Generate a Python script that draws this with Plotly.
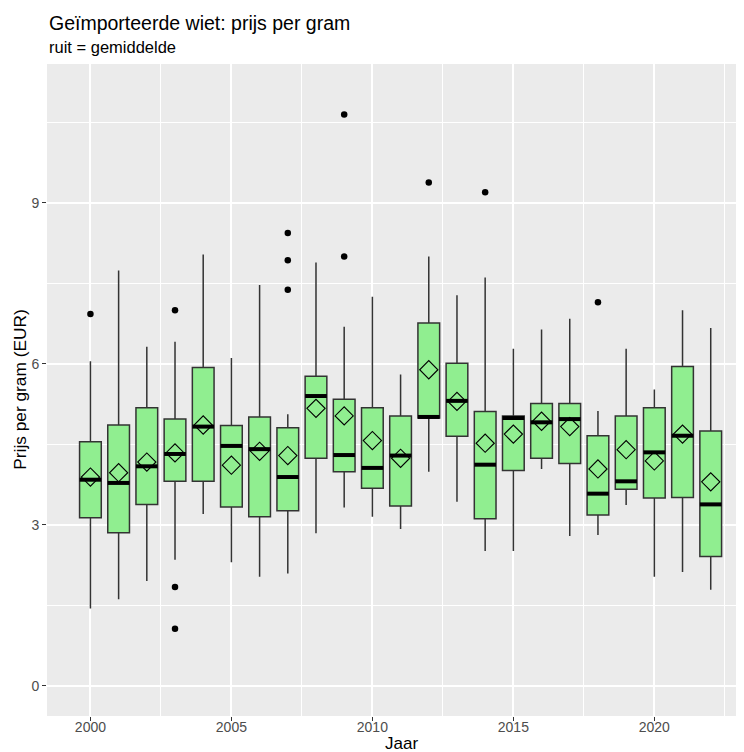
import plotly.graph_objects as go

# ---- data ----
years = list(range(2000, 2023))
q1 = [3.13, 2.85, 3.38, 3.81, 3.81, 3.33, 3.15, 3.26, 4.24, 3.99, 3.68, 3.35,
      4.99, 4.65, 3.11, 4.01, 4.24, 4.14, 3.18, 3.66, 3.50, 3.51, 2.41]
median = [3.84, 3.78, 4.09, 4.32, 4.83, 4.47, 4.41, 3.89, 5.40, 4.30, 4.06, 4.29,
          5.01, 5.31, 4.12, 4.99, 4.91, 4.97, 3.58, 3.81, 4.35, 4.66, 3.38]
q3 = [4.55, 4.86, 5.18, 4.97, 5.93, 4.85, 5.01, 4.81, 5.77, 5.34, 5.18, 5.03,
      6.76, 6.01, 5.11, 5.03, 5.26, 5.26, 4.66, 5.03, 5.18, 5.95, 4.75]
lower = [1.44, 1.61, 1.95, 2.35, 3.20, 2.30, 2.03, 2.09, 2.84, 3.32, 3.15, 2.92,
         3.99, 3.43, 2.51, 2.51, 4.04, 2.79, 2.81, 3.37, 2.03, 2.12, 1.79]
upper = [6.05, 7.74, 6.32, 6.41, 8.04, 6.11, 7.47, 5.06, 7.89, 6.69, 7.25, 5.80,
         8.00, 7.28, 7.61, 6.28, 6.64, 6.84, 5.12, 6.28, 5.52, 7.00, 6.67]
means = [3.89, 3.97, 4.17, 4.34, 4.86, 4.11, 4.37, 4.29, 5.17, 5.03, 4.57, 4.24,
         5.89, 5.30, 4.52, 4.69, 4.93, 4.83, 4.04, 4.40, 4.19, 4.69, 3.80]
out_years = [2000, 2003, 2003, 2003, 2007, 2007, 2007, 2009, 2009, 2012, 2014, 2018]
out_vals = [6.93, 7.00, 1.84, 1.06, 8.44, 7.93, 7.38, 10.65, 8.00, 9.38, 9.20, 7.15]

title_text = "Geïmporteerde wiet: prijs per gram"
subtitle_text = "ruit = gemiddelde"
x_title = "Jaar"
y_title = "Prijs per gram (EUR)"

FONT = "Liberation Sans, Arial, sans-serif"

fig = go.Figure()
fig.add_trace(go.Box(
    x=years, q1=q1, median=median, q3=q3, lowerfence=lower, upperfence=upper,
    width=0.77, fillcolor="#90EE90", line=dict(color="#333333", width=1.5),
    whiskerwidth=0, boxpoints=False, showlegend=False, hoverinfo="skip"))
fig.add_trace(go.Scatter(
    x=years, y=median, mode="markers", showlegend=False, hoverinfo="skip",
    marker=dict(symbol="line-ew", size=15.5, color="black",
                line=dict(color="black", width=4))))
fig.add_trace(go.Scatter(
    x=years, y=means, mode="markers", showlegend=False, hoverinfo="skip",
    marker=dict(symbol="diamond-open", size=14, color="black",
                line=dict(color="black", width=1.1))))
fig.add_trace(go.Scatter(
    x=out_years, y=out_vals, mode="markers", showlegend=False, hoverinfo="skip",
    marker=dict(symbol="circle", size=6.5, color="black")))

axis_common = dict(
    showgrid=True, gridcolor="white", gridwidth=2, zeroline=False,
    ticks="outside", ticklen=4, tickwidth=1, tickcolor="#333333",
    showline=False, tickfont=dict(family=FONT, size=14, color="#4D4D4D"),
)
fig.update_xaxes(range=[1998.46, 2023.18], tickmode="linear", tick0=2000, dtick=5,
                 minor=dict(tick0=2000, dtick=2.5, showgrid=True, gridcolor="white",
                            gridwidth=1.1, ticks=""),
                 ticklabelstandoff=-6,
                 **axis_common)
fig.update_yaxes(range=[-0.565, 11.59], tickmode="linear", tick0=0, dtick=3,
                 minor=dict(tick0=0, dtick=1.5, showgrid=True, gridcolor="white",
                            gridwidth=1.1, ticks=""),
                 **axis_common)

annotations = [
    dict(text=title_text, xref="paper", yref="paper", x=0, y=1.0632,
         xanchor="left", yanchor="middle", showarrow=False,
         font=dict(family=FONT, size=19.5, color="black")),
    dict(text=subtitle_text, xref="paper", yref="paper", x=0, y=1.0261,
         xanchor="left", yanchor="middle", showarrow=False,
         font=dict(family=FONT, size=16.5, color="black")),
    dict(text=x_title, xref="paper", yref="paper", x=0.509, y=-0.0424,
         xanchor="center", yanchor="middle", showarrow=False,
         font=dict(family=FONT, size=17, color="black")),
    dict(text=y_title, xref="paper", yref="paper", x=-0.0392, y=0.5,
         xanchor="center", yanchor="middle", showarrow=False, textangle=-90,
         font=dict(family=FONT, size=17.3, color="black")),
]

# the page body has an 8px margin, so the figure is sized/placed to compensate
fig.update_layout(
    width=736, height=744,
    margin=dict(l=39.3, r=0, t=56.3, b=36, pad=0),
    plot_bgcolor="#EBEBEB", paper_bgcolor="white",
    font=dict(family=FONT),
    showlegend=False,
    annotations=annotations,
)

fig.write_html("out.html")
